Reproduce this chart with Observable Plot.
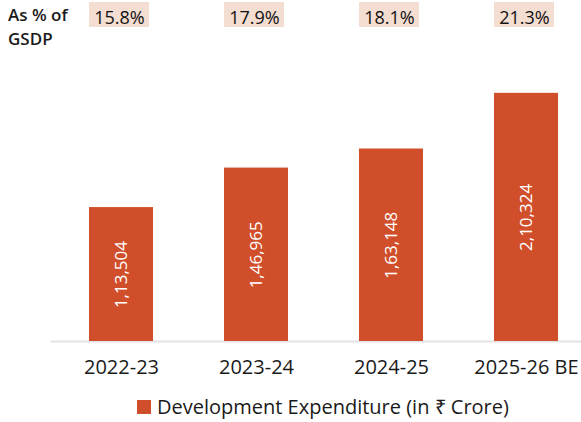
<!DOCTYPE html>
<html>
<head>
<meta charset="utf-8">
<script src="https://cdn.jsdelivr.net/npm/d3@7"></script>
<script src="https://cdn.jsdelivr.net/npm/@observablehq/plot@0.6"></script>
<style>
  html, body { margin: 0; padding: 0; background: white; }
  #wrap { position: relative; width: 581px; height: 422px; font-family: "Open Sans", sans-serif; color: #1a1a1a; }
  #gsdp { position: absolute; left: 8px; top: 3px; font-size: 17px; font-weight: 600; line-height: 24px; }
  #legend { position: absolute; left: 137px; top: 393px; font-size: 20px; display: flex; align-items: center; white-space: nowrap; }
  #legend .sw { width: 14px; height: 14px; margin-right: 6px; }
  svg { display: block; }
</style>
</head>
<body>
<div id="wrap"></div>
<script>
const years = ["2022-23", "2023-24", "2024-25", "2025-26 BE"];
const expenditure = [113504, 146965, 163148, 210324];
const gsdpShare = [15.8, 17.9, 18.1, 21.3];
const gsdpTitle = ["As % of", "GSDP"];
const legendLabel = "Development Expenditure (in ₹ Crore)";

const barColor = "#d04e29";
const data = years.map((year, i) => ({year, value: expenditure[i], share: gsdpShare[i]}));

function fmtIN(n) {
  const s = String(n);
  const last3 = s.slice(-3);
  let rest = s.slice(0, -3);
  rest = rest.replace(/\B(?=(\d{2})+(?!\d))/g, ",");
  return rest ? rest + "," + last3 : last3;
}

const chart = Plot.plot({
  width: 581,
  height: 385,
  marginTop: 0,
  marginLeft: 51,
  marginRight: 0,
  marginBottom: 44,
  style: {fontFamily: "Open Sans, sans-serif", fontSize: "20px", color: "#1a1a1a", background: "white"},
  x: {domain: years, range: [88, 559], paddingInner: 0.528, paddingOuter: 0, label: null, tickSize: 0, tickPadding: 18},
  y: {domain: [0, 289000], axis: null},
  marks: [
    Plot.cell(data, {x: "year", fill: "#f4ddd1", insetTop: 2, insetBottom: 314, insetRight: 4}),
    Plot.text(data, {x: "year", text: d => d.share.toFixed(1) + "%", frameAnchor: "top", dy: 11, dx: -2, fontSize: 18, fill: "#111"}),
    Plot.ruleY([0], {stroke: "#e4e4e4", strokeWidth: 2}),
    Plot.barY(data, {x: "year", y: "value", fill: barColor}),
    Plot.text(data, {x: "year", y: d => d.value / 2, text: d => fmtIN(d.value), rotate: -90, fill: "white", fontSize: 17})
  ]
});

const wrap = document.getElementById("wrap");
wrap.appendChild(chart);

const g = document.createElement("div");
g.id = "gsdp";
g.innerHTML = gsdpTitle.join("<br>");
wrap.appendChild(g);

const lg = document.createElement("div");
lg.id = "legend";
const sw = document.createElement("div");
sw.className = "sw";
sw.style.background = barColor;
const lt = document.createElement("span");
lt.textContent = legendLabel;
lg.appendChild(sw);
lg.appendChild(lt);
wrap.appendChild(lg);
</script>
</body>
</html>
